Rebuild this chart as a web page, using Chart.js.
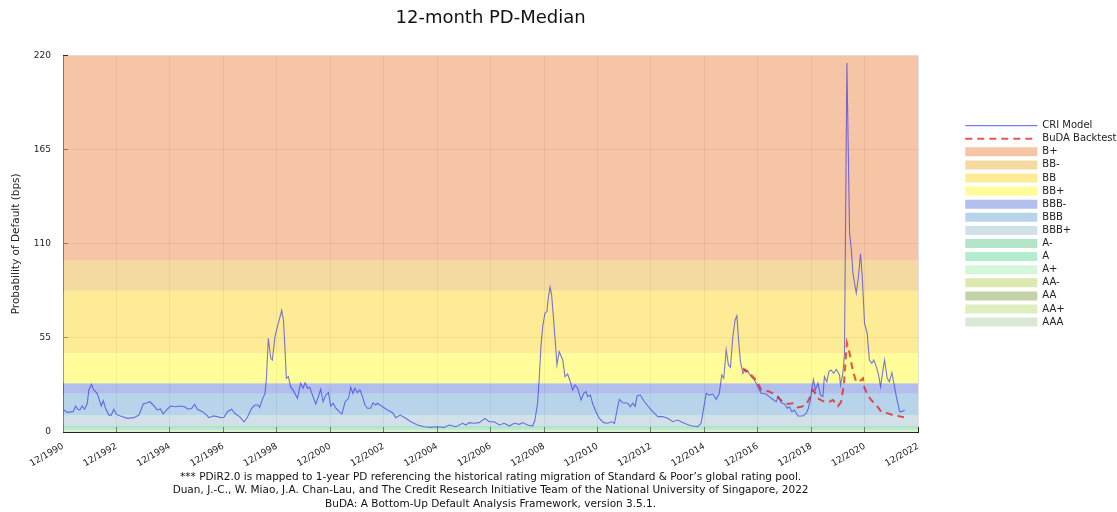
<!DOCTYPE html>
<html>
<head>
<meta charset="utf-8">
<script src="https://cdn.jsdelivr.net/npm/chart.js@4.4.1/dist/chart.umd.min.js"></script>
<style>
html,body{margin:0;padding:0;background:#fff;}
#wrap{width:1117px;height:512px;}
</style>
</head>
<body>
<div id="wrap"><canvas id="c" width="1117" height="512"></canvas></div>
<script>
// x values are months since 12/1990
const xMin = 0, xMax = 384;
const yTickStep = 55, yMax = 220;

const criSeries = [[0.4,12.9],[1.9,11.5],[4.6,11.9],[5.6,15.2],[6.7,13.3],[7.6,12.9],[8.6,15.2],[9.7,13.3],[10.9,16.8],[11.6,24.6],[12.8,27.9],[13.8,24.6],[15.1,23],[15.6,21.6],[17.2,15.2],[18.1,18.3],[19.1,13.9],[20.6,9.9],[21.7,9.9],[22.8,13.3],[24,10.3],[25.8,9.4],[28.9,8],[31.8,8.4],[34.1,9.9],[36,16.4],[37.8,17.1],[39,17.7],[40.5,15.8],[42.3,12.9],[43.8,13.5],[45,10.5],[46.5,12.9],[48.3,15.2],[50.6,14.8],[52.8,15.2],[54.6,14.8],[56.1,13.3],[57.8,13.9],[59.1,16.2],[60.3,13.3],[62.6,11.9],[64.5,9.9],[65.5,8.4],[67.5,9.4],[69.3,9],[70.8,8.4],[72.3,8.6],[73.8,11.9],[75.7,13.3],[77.5,10.5],[79.3,9],[81.3,6],[82.8,8.6],[84.7,13.9],[86.2,15.8],[87.5,15.8],[88.3,14.4],[89.5,19.1],[90.7,22.6],[91.3,30.4],[92.2,54.8],[93.3,43.1],[94,42.1],[95.2,55.8],[96.7,63.6],[98.2,71],[99,65.5],[99.7,48],[100.3,31.4],[101.2,32.4],[102.2,26.5],[103.7,23.6],[105.3,19.7],[106.7,28.5],[107.8,25.6],[108.7,28.8],[109.8,25.6],[110.8,26.2],[112,21.6],[113.5,16.4],[114.7,20.7],[115.7,25],[116.8,17.7],[118,21.6],[119.2,23],[120.2,15.2],[121.3,16.8],[122.5,13.9],[124,11.9],[125.2,10.5],[126.7,17.7],[128.2,19.7],[129.2,26.2],[130.2,22.6],[131.1,25.6],[132.2,23],[133.3,24.6],[134.5,20.7],[135.6,15.8],[136.7,13.9],[138.1,13.9],[139.2,17.1],[140.4,15.8],[141.2,16.8],[143.5,14.8],[145.7,12.9],[148,11.3],[149.4,8.4],[151.4,9.9],[153.9,8],[156.2,6],[159.2,4.1],[162.2,3.1],[165.2,2.7],[168.2,3.1],[171.1,2.7],[173.4,4.1],[176.4,3.1],[179.4,5.1],[180.9,4.1],[182.4,5.5],[184.6,5.1],[186.9,5.5],[189.4,8],[191.4,6],[193.6,6],[195.9,4.1],[198.1,5.1],[200.4,3.5],[202.6,5.1],[204.9,4.5],[206.4,5.5],[208.6,4.1],[210.9,3.5],[211.9,7],[213.1,16.8],[213.8,30.4],[214.6,49.9],[215.4,61.6],[216.4,69.4],[217.3,70.4],[217.9,78.2],[218.7,84.7],[219.4,80.2],[220.3,65.5],[221,53.8],[221.8,39.2],[222.8,47],[224.4,42.1],[225.4,32.4],[226.6,33.9],[227.8,29.4],[228.8,24.6],[229.9,27.5],[231.1,25.6],[232.6,18.7],[233.8,22.6],[234.8,23.6],[235.6,20.7],[236.8,21.6],[237.8,16.8],[239.3,11.9],[240.8,8],[242.8,5.5],[244.6,5.1],[246.4,6],[247.6,5.1],[249.1,14.8],[249.8,19.1],[251.3,17.1],[253.6,16.8],[254.7,14.8],[255.8,16.8],[256.9,15],[257.8,21.1],[259.2,21.6],[260.8,18.3],[262.6,15.2],[264.8,11.9],[267.1,9],[269.3,9],[271.5,8],[273.8,6],[276,7],[277.5,6],[279.8,4.7],[282,3.7],[285,3.1],[286.5,5.1],[287.3,10.9],[288.8,22.6],[290.2,21.6],[291.8,22.2],[293.3,19.1],[294.7,22.6],[295.8,33.4],[296.7,31.4],[297.8,48],[298.8,39.2],[299.7,37.8],[300.8,55.8],[301.8,65.5],[302.6,67.9],[303.3,54.8],[304.2,41.1],[305.3,34.3],[306.3,36.7],[307.5,35.3],[309,32.4],[310.5,30.4],[312,26.5],[313.5,22.6],[315.7,22.2],[318,19.7],[320.2,17.7],[321.3,20.7],[322.5,17.1],[324,16.4],[325.2,13.9],[326.2,14.8],[327.3,11.9],[328.4,12.9],[330,9.4],[332.2,9.4],[333.7,10.9],[334.7,13.9],[335.6,18.7],[336.4,26.5],[337,30.8],[337.8,24.6],[339,28.5],[340.1,21.6],[341.2,20.7],[341.9,32.4],[343,29.4],[343.9,35.3],[344.9,36.3],[346.1,34.3],[347.2,36.7],[348.7,33.4],[349.1,27.5],[350.2,34.3],[350.9,46],[352,215.7],[353.2,116.3],[354,106.5],[354.7,92.8],[356.2,81.2],[357.2,90.9],[358.1,104.2],[358.9,90.9],[359.9,63.6],[361.1,57.8],[362.1,42.1],[363.2,40.2],[364.1,42.1],[365.2,38.2],[366.2,33.4],[367.1,26.5],[368.2,36.3],[368.9,42.1],[370.1,31.4],[371.1,29.4],[372.2,34.7],[373.1,28.5],[374.2,20.7],[375.7,11.9],[376.7,11.9],[377.9,12.9]];

const budaSeries = [[305.3,37.3],[306.7,35.3],[307.8,35.9],[309,33.4],[310.5,31.4],[312,28.5],[313.5,24.6],[315,24.2],[317.2,23.6],[318.7,22.6],[321,20.3],[323.2,17.7],[325.5,16.4],[327.7,16.8],[329.7,14.4],[331.5,14.8],[333.7,15.8],[335.2,19.7],[336.7,24.6],[337.8,22.6],[339,19.7],[340.4,18.7],[341.9,17.7],[344.2,17.7],[345.7,18.7],[348,15.2],[349.4,17.7],[350.6,27.5],[351.2,38.2],[352,52],[353.2,46],[354,40.2],[354.7,35.3],[356.2,29.4],[357.2,29.4],[358.4,30.4],[359.2,31.4],[359.9,25.6],[361.4,21.6],[362.9,18.7],[365.2,15.8],[367.4,11.9],[370.4,10.9],[372.7,9.9],[374.9,9.4],[377.6,8.6]];

const ratingLabels = ['B+','BB-','BB','BB+','BBB-','BBB','BBB+','A-','A','A+','AA-','AA','AA+','AAA'];
const ratingUpper  = [220, 100.5, 82.5, 46, 28.5, 22.3, 10, 3.5, 2.0, 1.2, 0.7, 0.4, 0.25, 0.1];
const ratingLower  = [100.5, 82.5, 46, 28.5, 22.3, 10, 3.5, 2.0, 1.2, 0.7, 0.4, 0.25, 0.1, 0];
const ratingColors = ['rgba(240,158,105,0.6)','rgba(237,193,97,0.6)','rgba(252,222,80,0.6)','rgba(253,252,85,0.6)',
  'rgba(127,147,223,0.6)','rgba(137,183,220,0.6)','rgba(180,203,217,0.6)','rgba(130,210,163,0.6)',
  'rgba(130,223,177,0.6)','rgba(180,243,190,0.6)','rgba(198,218,123,0.6)','rgba(157,180,110,0.6)',
  'rgba(205,225,152,0.6)','rgba(192,218,187,0.6)'];

const footnote = [
  '*** PDiR2.0 is mapped to 1-year PD referencing the historical rating migration of Standard & Poor\u2019s global rating pool.',
  'Duan, J.-C., W. Miao, J.A. Chan-Lau, and The Credit Research Initiative Team of the National University of Singapore, 2022',
  'BuDA: A Bottom-Up Default Analysis Framework, version 3.5.1.'
];

Chart.defaults.font.family = "'DejaVu Sans', sans-serif";
Chart.defaults.color = '#222';

const toPts = s => s.map(([x, y]) => ({x, y}));

const datasets = [
  {label: 'CRI Model', data: toPts(criSeries), borderColor: 'rgba(40,40,230,0.62)', borderWidth: 1.1,
   pointRadius: 0, fill: false, tension: 0, order: 1, yAxisID: 'y'},
  {label: 'BuDA Backtest', data: toPts(budaSeries), borderColor: 'rgba(230,20,20,0.72)', borderWidth: 2,
   borderDash: [7, 5], pointRadius: 0, fill: false, tension: 0, order: 0, yAxisID: 'y'}
].concat(ratingLabels.map((lab, i) => ({
  label: lab,
  data: [{x: xMin, y: ratingUpper[i]}, {x: xMax, y: ratingUpper[i]}],
  fill: {value: ratingLower[i]},
  backgroundColor: ratingColors[i],
  borderColor: 'rgba(0,0,0,0)',
  borderWidth: 0,
  pointRadius: 0,
  order: 2 + i,
  yAxisID: 'y',
  isBand: true
})));

const gridStyle = {color: 'rgba(0,0,0,0.12)', tickColor: 'rgba(0,0,0,0.85)', tickLength: -5, drawTicks: true};

new Chart(document.getElementById('c'), {
  type: 'line',
  data: {datasets},
  options: {
    responsive: false,
    animation: false,
    events: [],
    layout: {padding: {left: 0, top: 0, bottom: 0, right: -9.5}},
    scales: {
      x: {
        type: 'linear', min: xMin, max: xMax,
        ticks: {stepSize: 24, autoSkip: false, minRotation: 30, maxRotation: 30, padding: 14,
                font: {size: 9}, color: '#222', callback: v => '12/' + (1990 + v / 12)},
        grid: gridStyle,
        border: {color: '#222', width: 1},
        afterFit: s => { s.height = 38.5; }
      },
      y: {
        type: 'linear', min: 0, max: yMax, position: 'left',
        ticks: {stepSize: yTickStep, padding: 17, font: {size: 9}, color: '#222'},
        grid: gridStyle,
        border: {color: '#222', width: 1},
        title: {display: true, text: 'Probability of Default (bps)', font: {size: 10.5}, color: '#222', padding: {top: 10, bottom: 0}},
        afterFit: s => { s.width = 63; }
      },
      yR: {
        type: 'linear', position: 'right', display: true,
        grid: {display: false}, ticks: {display: false}, border: {display: false},
        afterFit: s => { s.width = 44; }
      }
    },
    plugins: {
      tooltip: {enabled: false},
      title: {
        display: true, text: '12-month PD-Median', fullSize: false,
        font: {size: 18, weight: 'normal'}, color: '#111', padding: {top: 8, bottom: 26}
      },
      subtitle: {
        display: true, position: 'bottom', text: footnote, fullSize: false,
        font: {size: 10.5, weight: 'normal', lineHeight: 1.285}, color: '#111', padding: {top: 0, bottom: 1}
      },
      legend: {
        position: 'right', align: 'start',
        title: {display: true, text: ' ', font: {size: 10, lineHeight: 1.2}, padding: {top: 0, bottom: 105.5}},
        labels: {
          usePointStyle: true, pointStyleWidth: 72, boxHeight: 9, padding: 3.1,
          font: {size: 10}, color: '#222',
          generateLabels: chart => chart.data.datasets.map((ds, i) => ({
            text: ds.label,
            fillStyle: ds.isBand ? ds.backgroundColor : 'rgba(0,0,0,0)',
            strokeStyle: ds.borderColor,
            lineWidth: ds.isBand ? 0 : ds.borderWidth,
            lineDash: ds.borderDash || [],
            pointStyle: ds.isBand ? 'rect' : 'line',
            hidden: false,
            fontColor: '#222',
            datasetIndex: i
          }))
        }
      }
    }
  }
});
</script>
</body>
</html>
